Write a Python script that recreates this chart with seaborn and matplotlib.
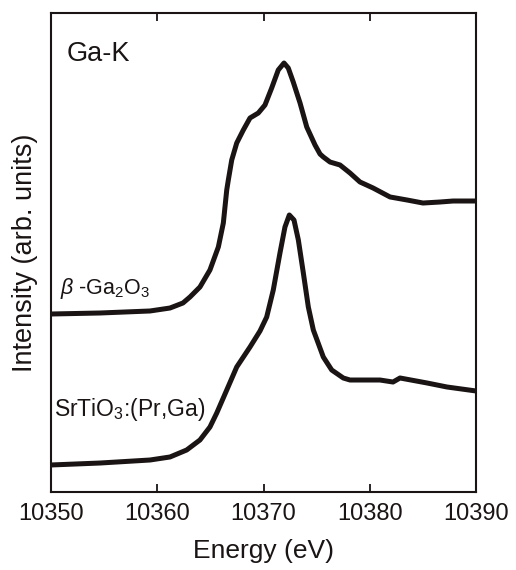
import matplotlib
matplotlib.use("Agg")
import matplotlib.pyplot as plt
import seaborn as sns
import pandas as pd

# Energy (eV) and intensity (arb. units)
ga2o3_energy = [10350.00, 10354.61, 10359.32, 10361.20, 10362.42, 10363.08, 10364.02, 10364.96,
                10365.75, 10366.22, 10366.54, 10366.69, 10367.01, 10367.48, 10368.10, 10368.73,
                10369.51, 10370.14, 10370.77, 10371.39, 10371.93, 10372.33, 10372.80, 10373.44,
                10374.07, 10374.85, 10375.32, 10375.63, 10376.26, 10377.20, 10378.14, 10379.08,
                10380.31, 10381.91, 10383.51, 10385.01, 10386.61, 10387.84, 10390.00]
ga2o3_int = [37.16, 37.37, 37.79, 38.41, 39.46, 40.71, 42.80, 46.35,
             51.15, 56.16, 63.05, 65.14, 69.31, 72.86, 75.57, 78.08,
             79.12, 80.79, 84.34, 88.10, 89.56, 88.52, 85.59, 81.21,
             76.20, 72.44, 70.56, 69.94, 68.89, 68.27, 66.60, 64.72,
             63.47, 61.59, 60.96, 60.33, 60.54, 60.75, 60.75]

srtio3_energy = [10350.00, 10354.61, 10359.32, 10361.20, 10362.77, 10364.02, 10364.96, 10365.60,
                 10366.54, 10367.48, 10368.73, 10369.67, 10370.30, 10370.92, 10371.55, 10372.02,
                 10372.43, 10372.87, 10373.28, 10373.75, 10374.22, 10374.69, 10375.63, 10376.42,
                 10377.51, 10378.14, 10380.96, 10382.19, 10382.85, 10385.39, 10387.27, 10390.00]
srtio3_int = [5.64, 6.05, 6.68, 7.31, 8.77, 10.86, 13.57, 16.49,
              21.29, 26.10, 30.27, 33.61, 36.53, 42.17, 49.90, 55.32,
              57.83, 56.78, 52.61, 45.72, 38.62, 33.82, 28.18, 25.47,
              23.80, 23.38, 23.38, 22.96, 23.80, 22.76, 21.92, 21.09]

x_ticks = [10350, 10360, 10370, 10380, 10390]

sns.set_style("white")
plt.rcParams['font.family'] = ['Liberation Sans', 'DejaVu Sans']
plt.rcParams['mathtext.fontset'] = 'custom'
plt.rcParams['mathtext.rm'] = 'Liberation Sans'
plt.rcParams['mathtext.it'] = 'Liberation Sans:italic'

df = pd.concat([
    pd.DataFrame({"Energy": ga2o3_energy, "Intensity": ga2o3_int, "sample": "Ga2O3"}),
    pd.DataFrame({"Energy": srtio3_energy, "Intensity": srtio3_int, "sample": "SrTiO3"}),
])

ink = '#1a1414'
fig = plt.figure(figsize=(5.16, 5.70), dpi=100)
ax = fig.add_axes([51/516, 1-492/570, (476-51)/516, (492-13)/570])

sns.lineplot(data=df, x="Energy", y="Intensity", units="sample", estimator=None,
             color=ink, linewidth=3.6, ax=ax, sort=False,
             solid_joinstyle="round", solid_capstyle="round")

ax.set_xlim(10350, 10390)
ax.set_ylim(0, 100)
ax.set_xticks(x_ticks)
ax.set_xticklabels([str(t) for t in x_ticks], fontsize=17)
ax.set_yticks([])
ax.tick_params(axis='x', which='both', direction='in', top=True, bottom=True,
               length=6, width=1.3, pad=8, colors=ink)
for sp in ax.spines.values():
    sp.set_visible(True)
    sp.set_linewidth(1.5)
    sp.set_color(ink)

ax.set_xlabel("Energy (eV)", fontsize=19, labelpad=10, color=ink)
ax.set_ylabel("Intensity (arb. units)", fontsize=19.5, labelpad=9, color=ink)

ax.text(0.036, 0.915, "Ga-K", transform=ax.transAxes, fontsize=19.5,
        ha='left', va='center', color=ink)
ax.text(0.022, 0.425, r"$\beta$ -Ga$_2$O$_3$", transform=ax.transAxes, fontsize=15.5,
        ha='left', va='center', color=ink)
ax.text(0.008, 0.172, r"SrTiO$_3$:(Pr,Ga)", transform=ax.transAxes, fontsize=16.5,
        ha='left', va='center', color=ink)

fig.savefig("out.png", dpi=100)
